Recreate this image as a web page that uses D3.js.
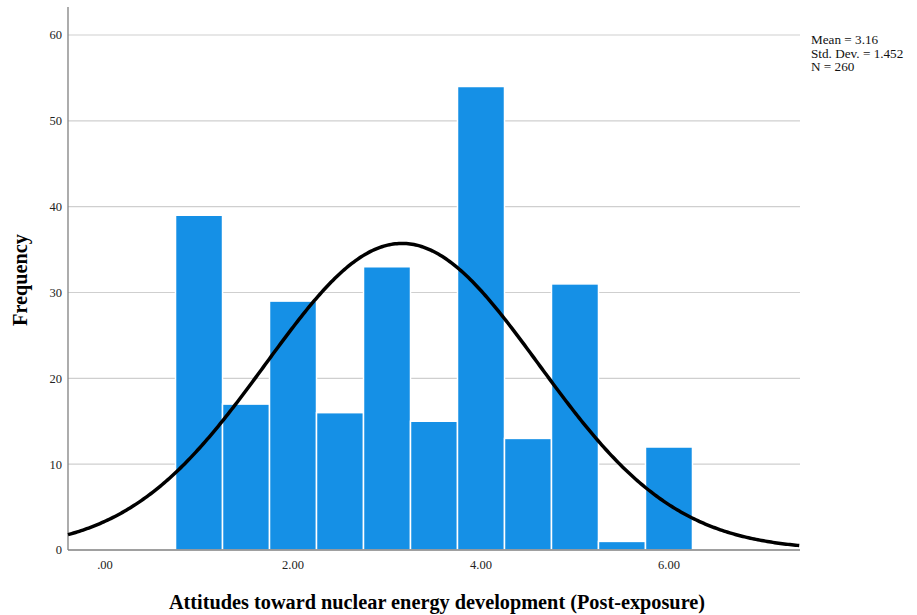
<!DOCTYPE html>
<html><head><meta charset="utf-8">
<script src="https://cdn.jsdelivr.net/npm/d3@7"></script>
<style>body{margin:0;background:#fff}svg{display:block}</style>
</head><body>
<svg id="c" width="917" height="615"></svg>
<script>
const binCenters = [1.0, 1.5, 2.0, 2.5, 3.0, 3.5, 4.0, 4.5, 5.0, 5.5, 6.0];
const frequencies = [39, 17, 29, 16, 33, 15, 54, 13, 31, 1, 12];
const binWidth = 0.5;
const xTicks = [0, 2, 4, 6];
const yTicks = [0, 10, 20, 30, 40, 50, 60];
const stats = {mean: 3.16, sd: 1.452, n: 260};
const legendLines = ["Mean = 3.16", "Std. Dev. = 1.452", "N = 260"];

const svg = d3.select("#c");
const L = 68, R = 800, T = 7, B = 550;
const x = d3.scaleLinear().domain([-0.394, 7.394]).range([L, R]);
const y = d3.scaleLinear().domain([0, 60]).range([B, 35]);
const font = "'Liberation Serif', 'Times New Roman', serif";

// gridlines
svg.append("g").selectAll("line").data(yTicks.filter(d => d > 0)).join("line")
  .attr("x1", L).attr("x2", R).attr("y1", d => y(d)).attr("y2", d => y(d))
  .attr("stroke", "#cfcfcf").attr("stroke-width", 1.2);

// bars
svg.append("g").selectAll("rect").data(binCenters).join("rect")
  .attr("x", d => x(d - binWidth / 2))
  .attr("width", d => x(d + binWidth / 2) - x(d - binWidth / 2))
  .attr("y", (d, i) => y(frequencies[i]))
  .attr("height", (d, i) => y(0) - y(frequencies[i]))
  .attr("fill", "#1590e6").attr("stroke", "#ffffff").attr("stroke-width", 1.5);

// axes lines
svg.append("line").attr("x1", L).attr("x2", L).attr("y1", T).attr("y2", B)
  .attr("stroke", "#808080").attr("stroke-width", 1.3);
svg.append("line").attr("x1", L).attr("x2", R).attr("y1", B).attr("y2", B)
  .attr("stroke", "#808080").attr("stroke-width", 1.3);

// normal curve
const pdf = v => Math.exp(-0.5 * Math.pow((v - stats.mean) / stats.sd, 2)) / (stats.sd * Math.sqrt(2 * Math.PI));
const xs = d3.range(-0.394, 7.394 + 0.001, 0.02);
svg.append("path").datum(xs)
  .attr("d", d3.line().x(d => x(d)).y(d => y(stats.n * binWidth * pdf(d))))
  .attr("fill", "none").attr("stroke", "#000").attr("stroke-width", 3.5);

// y tick labels
svg.append("g").selectAll("text").data(yTicks).join("text")
  .attr("x", 62).attr("y", d => y(d)).attr("dy", "0.35em")
  .attr("text-anchor", "end").attr("font-family", font).attr("font-size", 12.5)
  .attr("fill", "#222").text(d => d);

// x tick labels
svg.append("g").selectAll("text").data(xTicks).join("text")
  .attr("x", d => x(d)).attr("y", 569)
  .attr("text-anchor", "middle").attr("font-family", font).attr("font-size", 12.5)
  .attr("fill", "#222").text(d => d === 0 ? ".00" : d.toFixed(2));

// axis titles
svg.append("text").attr("x", 437).attr("y", 609).attr("text-anchor", "middle")
  .attr("font-family", font).attr("font-size", 20.3).attr("font-weight", "bold")
  .text("Attitudes toward nuclear energy development (Post-exposure)");
svg.append("text").attr("transform", "translate(27,280) rotate(-90)").attr("text-anchor", "middle")
  .attr("font-family", font).attr("font-size", 20.3).attr("font-weight", "bold")
  .text("Frequency");

// legend
svg.append("g").selectAll("text").data(legendLines).join("text")
  .attr("x", 811).attr("y", (d, i) => 44 + i * 13.5)
  .attr("font-family", font).attr("font-size", 13.2).attr("fill", "#111").text(d => d);
</script>
</body></html>
